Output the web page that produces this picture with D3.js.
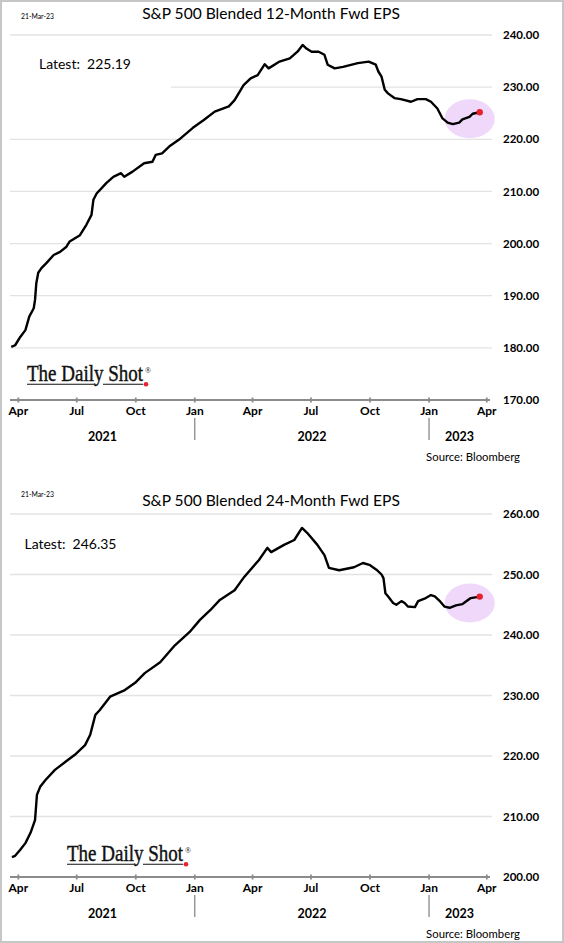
<!DOCTYPE html>
<html>
<head>
<meta charset="utf-8">
<script src="https://cdn.jsdelivr.net/npm/d3@7"></script>
<style>
  body { margin: 0; background: #fff; }
  svg { display: block; }
  .grid { stroke: #e3e3e3; stroke-width: 1.3; }
  .axisline { stroke: #8c8c8c; stroke-width: 1.8; }
  .eps { fill: none; stroke: #000; stroke-width: 2.4; stroke-linejoin: round; }
  .lbl { font-family: Lato, "Open Sans", sans-serif; fill: #000; }
</style>
</head>
<body>
<div id="chart"></div>
<script>
// 12-month forward EPS
let dates12 = ["2021-03-21","2021-03-27","2021-04-04","2021-04-12","2021-04-18","2021-04-25","2021-04-27","2021-04-29",
  "2021-05-02","2021-05-07","2021-05-15","2021-05-26","2021-06-05","2021-06-15","2021-06-20","2021-07-06","2021-07-16",
  "2021-07-24","2021-07-27","2021-08-01","2021-08-16","2021-08-27","2021-09-08","2021-09-13","2021-09-26","2021-10-14",
  "2021-10-27","2021-11-01","2021-11-11","2021-11-22","2021-12-07","2021-12-29","2022-01-15","2022-02-01","2022-02-23",
  "2022-03-04","2022-03-18","2022-03-29","2022-04-09","2022-04-20","2022-04-26","2022-05-13","2022-05-29","2022-06-10",
  "2022-06-18","2022-06-24","2022-07-02","2022-07-13","2022-07-22","2022-07-27","2022-08-07","2022-08-20","2022-09-12",
  "2022-09-29","2022-10-10","2022-10-14","2022-10-19","2022-10-24","2022-10-29","2022-11-08","2022-11-18","2022-12-04",
  "2022-12-14","2022-12-27","2023-01-04","2023-01-14","2023-01-22","2023-01-30","2023-02-07","2023-02-17","2023-02-22",
  "2023-03-05","2023-03-10","2023-03-21"];
let eps12 = [180.2,180.5,182.1,183.4,186.0,187.6,189.2,192.4,
  194.4,195.3,196.3,197.8,198.4,199.4,200.4,201.6,203.6,
  205.5,208.4,209.6,211.6,212.8,213.5,212.8,213.8,215.4,
  215.7,217.0,217.3,218.6,219.9,222.2,223.7,225.3,226.3,
  227.5,230.4,231.7,232.3,234.4,233.6,234.9,235.5,236.8,
  238.1,237.4,236.8,236.8,236.2,234.3,233.6,233.9,234.6,
  234.9,234.3,233.0,232.0,229.5,228.8,227.9,227.7,227.2,
  227.7,227.7,227.2,225.9,224.0,223.2,222.9,223.2,223.8,
  224.3,224.9,225.19];

// 24-month forward EPS
let dates24 = ["2021-03-22","2021-03-27","2021-04-04","2021-04-12","2021-04-20","2021-04-27","2021-04-30","2021-05-05",
  "2021-05-13","2021-05-28","2021-06-13","2021-06-28","2021-07-14","2021-07-22","2021-07-30","2021-08-06","2021-08-22",
  "2021-09-14","2021-09-30","2021-10-15","2021-11-08","2021-12-01","2021-12-24","2022-01-09","2022-01-25","2022-02-09",
  "2022-03-04","2022-03-19","2022-04-11","2022-04-24","2022-04-30","2022-05-20","2022-06-05","2022-06-17","2022-06-25",
  "2022-07-11","2022-07-22","2022-07-29","2022-08-14","2022-09-06","2022-09-20","2022-09-30","2022-10-11","2022-10-19",
  "2022-10-22","2022-10-25","2022-10-29","2022-11-06","2022-11-11","2022-11-19","2022-11-24","2022-11-29","2022-12-10",
  "2022-12-15","2022-12-25","2023-01-04","2023-01-10","2023-01-17","2023-01-25","2023-02-02","2023-02-12","2023-02-22",
  "2023-02-27","2023-03-07","2023-03-21"];
let eps24 = [203.3,203.5,204.5,205.6,207.3,209.4,213.6,214.9,
  216.0,217.7,219.0,220.2,221.8,223.5,226.8,227.6,229.8,
  230.9,232.1,233.7,235.5,238.3,240.5,242.5,244.1,245.8,
  247.4,249.6,252.4,254.4,253.7,254.9,255.7,257.7,256.9,
  254.9,253.2,251.1,250.7,251.2,251.9,251.6,250.8,250.0,
  249.4,246.9,246.4,245.3,245.0,245.6,245.3,244.7,244.6,
  245.6,246.0,246.6,246.4,245.7,244.7,244.5,244.9,245.1,
  245.5,246.1,246.35];

let yTicks12 = [170, 180, 190, 200, 210, 220, 230, 240];
let yTicks24 = [200, 210, 220, 230, 240, 250, 260];
let quarterDates = ["2021-04-01","2021-07-01","2021-10-01","2022-01-01","2022-04-01","2022-07-01","2022-10-01","2023-01-01","2023-04-01"];
let quarterLabels = ["Apr","Jul","Oct","Jan","Apr","Jul","Oct","Jan","Apr"];
let yearLabels = ["2021", "2022", "2023"];
let asOf = "21-Mar-23";

let parse = d3.timeParse("%Y-%m-%d");
let width = 564, height = 943;

let svg = d3.select("#chart").append("svg")
    .attr("width", width)
    .attr("height", height);

svg.append("rect")
    .attr("x", 1).attr("y", 1)
    .attr("width", width - 2).attr("height", height - 2)
    .attr("fill", "#fff")
    .attr("stroke", "#c6c6c6")
    .attr("stroke-width", 2);

let x = d3.scaleTime()
    .domain([parse("2021-03-19"), parse("2023-04-06")])
    .range([10, 490]);

// scale a text's font so that it fills a given width
function fit(sel, w) {
  let cur = sel.node().getComputedTextLength();
  let fs = parseFloat(sel.attr("font-size"));
  sel.attr("font-size", fs * w / cur);
  return sel;
}

let charts = [
  {title: "S&P 500 Blended 12-Month Fwd EPS", dates: dates12, values: eps12, ticks: yTicks12,
   yRange: [400, 35], titleY: 13, stampY: 17, latestX: 39, latestY: 64, logoX: 27, logoY: 381,
   box: [10, 44, 161, 50]},
  {title: "S&P 500 Blended 24-Month Fwd EPS", dates: dates24, values: eps24, ticks: yTicks24,
   yRange: [877, 514], titleY: 500, stampY: 495, latestX: 24.5, latestY: 544, logoX: 67, logoY: 861,
   box: null}
];

charts.forEach(c => {
  let g = svg.append("g");
  let y = d3.scaleLinear()
      .domain([c.ticks[0], c.ticks[c.ticks.length - 1]])
      .range(c.yRange);
  let axisY = c.yRange[0];

  // gridlines
  g.selectAll(".grid")
      .data(c.ticks.slice(1))
    .enter().append("line")
      .attr("class", "grid")
      .attr("x1", 10).attr("x2", 492)
      .attr("y1", d => y(d)).attr("y2", d => y(d));

  if (c.box) {
    g.append("rect")
        .attr("x", c.box[0]).attr("y", c.box[1])
        .attr("width", c.box[2]).attr("height", c.box[3])
        .attr("fill", "#fff");
  }

  // y labels on the right
  g.selectAll(".ylab")
      .data(c.ticks)
    .enter().append("text")
      .attr("class", "lbl")
      .attr("x", 503)
      .attr("y", d => y(d))
      .attr("dy", "0.36em")
      .attr("font-size", 11.5)
      .attr("font-weight", "bold")
      .text(d => d3.format(".2f")(d));

  // x axis
  g.append("line")
      .attr("class", "axisline")
      .attr("x1", 10).attr("x2", 490)
      .attr("y1", axisY).attr("y2", axisY);

  let qd = quarterDates.map(parse);
  g.selectAll(".tick")
      .data(qd)
    .enter().append("line")
      .attr("class", "axisline")
      .attr("stroke-width", 1.2)
      .attr("x1", d => x(d)).attr("x2", d => x(d))
      .attr("y1", axisY - 2.5).attr("y2", axisY + 2.5);

  g.selectAll(".qlab")
      .data(qd)
    .enter().append("text")
      .attr("class", "lbl")
      .attr("x", d => x(d))
      .attr("y", axisY + 11)
      .attr("dy", "0.36em")
      .attr("text-anchor", "middle")
      .attr("font-size", 12)
      .attr("font-weight", "bold")
      .text((d, i) => quarterLabels[i]);

  // year bands
  let yearStart = yearLabels.map(t => parse(t + "-01-01"));
  let bounds = [x.range()[0]].concat(yearStart.slice(1).map(d => x(d))).concat([x.range()[1]]);
  yearStart.slice(1).forEach(d => {
    g.append("line")
        .attr("x1", x(d)).attr("x2", x(d))
        .attr("y1", axisY + 18).attr("y2", axisY + 40)
        .attr("stroke", "#666")
        .attr("stroke-width", 1);
  });
  yearLabels.forEach((t, i) => {
    g.append("text")
        .attr("class", "lbl")
        .attr("x", (bounds[i] + bounds[i + 1]) / 2)
        .attr("y", axisY + 36)
        .attr("dy", "0.36em")
        .attr("text-anchor", "middle")
        .attr("font-size", 12.5)
        .attr("font-weight", "bold")
        .text(t);
  });

  // source
  let src = g.append("text")
      .attr("class", "lbl")
      .attr("x", 520)
      .attr("y", axisY + 57)
      .attr("dy", "0.36em")
      .attr("text-anchor", "end")
      .attr("font-size", 11)
      .attr("fill", "#222")
      .text("Source: Bloomberg");
  fit(src, 94);

  // title and date stamp
  let title = g.append("text")
      .attr("class", "lbl")
      .attr("x", 271)
      .attr("y", c.titleY)
      .attr("dy", "0.36em")
      .attr("text-anchor", "middle")
      .attr("font-size", 17)
      .text(c.title);
  fit(title, 258);

  let stamp = g.append("text")
      .attr("class", "lbl")
      .attr("x", 21)
      .attr("y", c.stampY)
      .attr("dy", "0.36em")
      .attr("font-size", 7)
      .attr("fill", "#333")
      .text(asOf);
  fit(stamp, 33);

  // latest value
  let last = c.values[c.values.length - 1];
  let lastDate = parse(c.dates[c.dates.length - 1]);
  let latest = g.append("text")
      .attr("class", "lbl")
      .attr("x", c.latestX)
      .attr("y", c.latestY)
      .attr("dy", "0.36em")
      .attr("font-size", 14)
      .attr("xml:space", "preserve")
      .text("Latest:  " + d3.format(".2f")(last));
  fit(latest, 92);

  // highlight ellipse
  g.append("ellipse")
      .attr("cx", x(lastDate) - 10)
      .attr("cy", y(last) + 6.5)
      .attr("rx", 25)
      .attr("ry", 19.5)
      .attr("fill", "#efd8fa");

  let line = d3.line()
      .x((d, i) => x(parse(c.dates[i])))
      .y(d => y(d));

  g.append("path")
      .datum(c.values)
      .attr("class", "eps")
      .attr("d", line);

  g.append("circle")
      .attr("cx", x(lastDate))
      .attr("cy", y(last))
      .attr("r", 3.2)
      .attr("fill", "#e8212e");

  // logo
  let logo = g.append("text")
      .attr("x", 0)
      .attr("y", 0)
      .attr("transform", "translate(" + c.logoX + "," + c.logoY + ") scale(1,1.22)")
      .attr("font-family", "'Liberation Serif', 'DejaVu Serif', serif")
      .attr("font-size", 19)
      .attr("stroke", "#111")
      .attr("stroke-width", 0.35)
      .attr("fill", "#111")
      .text("The Daily Shot");
  fit(logo, 116);
  let lw = 116, uy = c.logoY + 3.3;
  [[0, 0.585], [0.655, 1.0]].forEach(s => {
    g.append("line")
        .attr("x1", c.logoX + s[0] * lw).attr("x2", c.logoX + s[1] * lw)
        .attr("y1", uy).attr("y2", uy)
        .attr("stroke", "#111")
        .attr("stroke-width", 1.1);
  });
  g.append("circle")
      .attr("cx", c.logoX + lw + 3)
      .attr("cy", uy)
      .attr("r", 2.3)
      .attr("fill", "#e8212e");
  g.append("text")
      .attr("x", c.logoX + lw + 2)
      .attr("y", c.logoY - 8)
      .attr("font-family", "'Liberation Serif', serif")
      .attr("font-size", 8)
      .attr("fill", "#111")
      .text("®");
});
</script>
</body>
</html>
